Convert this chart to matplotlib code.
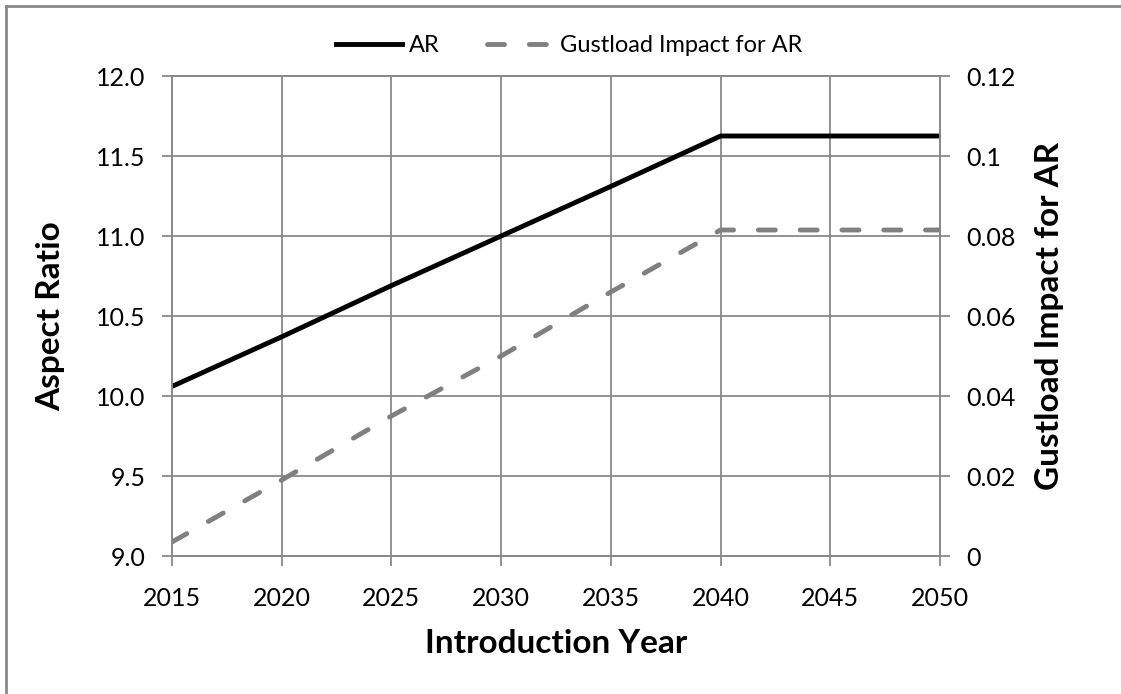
import matplotlib
matplotlib.use("Agg")
import matplotlib.pyplot as plt
from matplotlib.lines import Line2D
from matplotlib.ticker import FixedLocator, FixedFormatter

# data
years = [2015, 2020, 2025, 2030, 2035, 2040, 2045, 2050]
aspect_ratio = [10.06, 10.37, 10.69, 11.00, 11.31, 11.625, 11.625, 11.625]
gust_impact = [0.0035, 0.019, 0.035, 0.050, 0.066, 0.0815, 0.0815, 0.0815]
ar_ticks = [9.0, 9.5, 10.0, 10.5, 11.0, 11.5, 12.0]
gust_ticks = [0, 0.02, 0.04, 0.06, 0.08, 0.1, 0.12]
gust_labels = ["0", "0.02", "0.04", "0.06", "0.08", "0.1", "0.12"]

plt.rcParams['font.family'] = ['Lato', 'DejaVu Sans']
grid_c = '#898989'
lw = 3.5
dash = (3.5, 5.1)

fig = plt.figure(figsize=(11.21, 6.94), dpi=100)
ax = fig.add_axes([172/1121, 1 - 556/694, (940 - 172)/1121, (556 - 76)/694])
ax2 = ax.twinx()

ax.plot(years, aspect_ratio, color='black', lw=lw, solid_capstyle='butt', zorder=5)
ax2.plot(years, gust_impact, color='#808080', lw=lw, dashes=dash,
         dash_capstyle='round', zorder=5)

ax.set_xlim(2015, 2050)
ax.set_ylim(9.0, 12.0)
ax2.set_ylim(0, 0.12)
ax.set_xticks(range(2015, 2051, 5))
ax.set_yticks(ar_ticks)
ax.set_yticklabels([f"{v:.1f}" for v in ar_ticks])
ax2.yaxis.set_major_locator(FixedLocator(gust_ticks))
ax2.yaxis.set_major_formatter(FixedFormatter(gust_labels))

ax.grid(True, color=grid_c, lw=1.3)
for a in (ax, ax2):
    for s in a.spines.values():
        s.set_color(grid_c)
        s.set_linewidth(1.3)
    a.tick_params(colors=grid_c, labelcolor='black', labelsize=18, length=7, width=1.3)
ax.tick_params(axis='y', pad=12)
ax.tick_params(axis='x', pad=15)
ax2.tick_params(axis='y', pad=12)

ax.set_xlabel('Introduction Year', fontsize=24, fontweight='bold', labelpad=14)
ax.set_ylabel('Aspect Ratio', fontsize=24, fontweight='bold', labelpad=22)
ax2.set_ylabel('Gustload Impact for AR', fontsize=24, fontweight='bold', labelpad=14)

handles = [Line2D([], [], color='black', lw=lw),
           Line2D([], [], color='#808080', lw=lw, dashes=dash, dash_capstyle='round')]
fig.legend(handles, ['AR', 'Gustload Impact for AR'], loc='center',
           bbox_to_anchor=(0.508, 1 - 46/694), ncol=2, frameon=False, fontsize=17,
           handlelength=2.8, handletextpad=0.3, columnspacing=2.0)

# chart-area border (left and top visible)
fig.add_artist(Line2D([6/1121, 6/1121], [0, 1 - 6/694], color=grid_c, lw=2,
                      transform=fig.transFigure))
fig.add_artist(Line2D([6/1121, 1], [1 - 6/694, 1 - 6/694], color=grid_c, lw=2,
                      transform=fig.transFigure))

fig.savefig('out.png', dpi=100)
